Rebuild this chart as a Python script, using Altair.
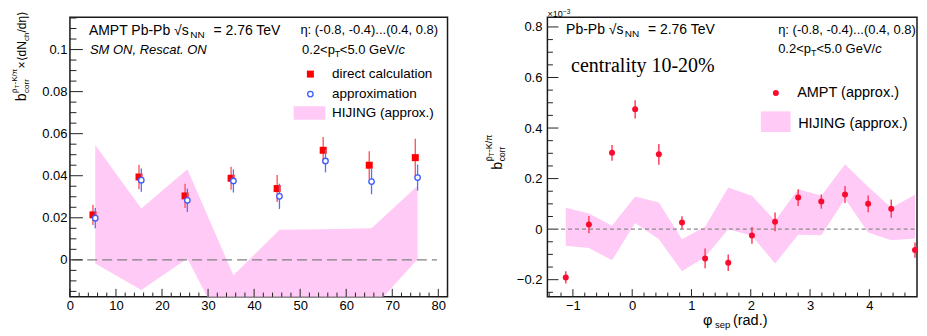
import altair as alt
import pandas as pd

# ---------------- data: left panel (vs centrality) ----------------
centrality_direct = [5, 15, 25, 35, 45, 55, 65, 75]
bcorr_direct = [0.0214, 0.0394, 0.0304, 0.0388, 0.0339, 0.0521, 0.0450, 0.0486]
bcorr_direct_err = [0.0048, 0.0058, 0.0058, 0.0055, 0.0064, 0.0063, 0.0066, 0.0090]
centrality_approx = [5.5, 15.5, 25.5, 35.5, 45.5, 55.5, 65.5, 75.5]
bcorr_approx = [0.0198, 0.0379, 0.0283, 0.0375, 0.0302, 0.0470, 0.0372, 0.0391]
bcorr_approx_err = [0.0048, 0.0055, 0.0055, 0.0055, 0.0060, 0.0054, 0.0060, 0.0062]
centrality_hijing = [5.5, 15.5, 25.5, 35.5, 45.5, 55.5, 65.5, 75.5]
hijing_left_high = [0.0546, 0.0244, 0.0431, -0.0073, 0.0143, 0.0146, 0.0150, 0.0352]
hijing_left_low = [-0.0017, -0.0143, 0.0006, -0.0415, -0.0450, -0.0450, -0.0238, 0.0003]
zero_line_left = [0.5, 79.7]

# ---------------- data: right panel (vs phi_sep) ----------------
phi_sep = [-1.12, -0.73, -0.34, 0.05, 0.45, 0.84, 1.23, 1.62,
           2.02, 2.41, 2.80, 3.19, 3.59, 3.98, 4.37, 4.77]
bcorr_ampt = [-0.191, 0.018, 0.302, 0.474, 0.296, 0.026, -0.116, -0.133,
              -0.025, 0.029, 0.125, 0.109, 0.137, 0.100, 0.081, -0.083]
bcorr_ampt_err = [0.024, 0.034, 0.031, 0.036, 0.041, 0.025, 0.039, 0.033,
                  0.033, 0.037, 0.033, 0.028, 0.034, 0.033, 0.036, 0.030]
hijing_right_high = [0.085, 0.062, 0.013, 0.129, 0.105, -0.040, 0.009, 0.165,
                     0.132, 0.033, 0.158, 0.132, 0.257, 0.168, 0.085, 0.136]
hijing_right_low = [-0.066, -0.075, -0.123, 0.024, -0.040, -0.167, -0.110, 0.000,
                    -0.026, -0.136, -0.022, -0.024, 0.120, -0.013, -0.044, -0.037]
zero_line_right = [-1.2, 4.8]

# ---------------- axis tick values ----------------
left_x_major = [0, 10, 20, 30, 40, 50, 60, 70, 80]
left_x_minor = [v for v in range(0, 83, 2) if v % 10]
left_y_major = [0, 0.02, 0.04, 0.06, 0.08, 0.1]
left_y_minor = [round(-0.015 + 0.005 * i, 3) for i in range(27) if i % 4 != 3]
right_x_major = [-1, 0, 1, 2, 3, 4]
right_x_minor = [round(-1.4 + 0.2 * i, 1) for i in range(31) if (i - 2) % 5 != 0]
right_y_major = [-0.2, 0, 0.2, 0.4, 0.6, 0.8]
right_y_minor = [round(-0.25 + 0.05 * i, 2) for i in range(22) if (i - 1) % 4 != 0]

# ---------------- styling ----------------
SANS = "Liberation Sans"
SERIF = "Liberation Serif"
PINK = "#ffcaf5"
W, W_R, H = 378, 370, 280
DY = -0.7
L_X, L_Y = [0, 82], [-0.0176, 0.1154]
R_X, R_Y = [-1.43, 4.804], [-0.268, 0.8387]
ONE = pd.DataFrame({"a": [0]})


def X(field, dom, axis=alt.Undefined):
    return alt.X(field, type="quantitative", axis=axis,
                 scale=alt.Scale(domain=dom, nice=False, zero=False))


def Y(field, dom, axis=alt.Undefined):
    return alt.Y(field, type="quantitative", axis=axis,
                 scale=alt.Scale(domain=dom, nice=False, zero=False))


def axis(values, fmt, pad):
    return alt.Axis(values=values, format=fmt, ticks=False, tickSize=0, domain=False,
                    grid=False, labelFont=SANS, labelFontSize=13, labelColor="black",
                    labelPadding=pad, labelFlush=False, labelOverlap=False, title=None)


def text(s, x, y, size=13, font=SANS, style="normal", align="left",
         baseline="alphabetic", angle=0, dy=DY):
    return alt.Chart(ONE).mark_text(
        text=s, fontSize=size, font=font, fontStyle=style, align=align,
        baseline=baseline, angle=angle, color="black"
    ).encode(x=alt.value(x), y=alt.value(y + dy))


def ticks(xmaj, xmin, ymaj, ymin, xd, yd, ymaj_len, ymin_len, xmaj_len, xmin_len):
    out = []
    for vals, ln in ((ymaj, ymaj_len), (ymin, ymin_len)):
        out.append(alt.Chart(pd.DataFrame({"v": vals})).mark_rule(color="#222", strokeWidth=1)
                   .encode(y=Y("v", yd), x=alt.value(0), x2=alt.value(ln)))
    for vals, ln in ((xmaj, xmaj_len), (xmin, xmin_len)):
        out.append(alt.Chart(pd.DataFrame({"v": vals})).mark_rule(color="#222", strokeWidth=1)
                   .encode(x=X("v", xd), y=alt.value(H), y2=alt.value(H - ln)))
    return out


# ================= LEFT PANEL =================
df_band_l = pd.DataFrame({"x": centrality_hijing, "lo": hijing_left_low, "hi": hijing_left_high})
df_dir = pd.DataFrame({"x": centrality_direct, "y": bcorr_direct})
df_dir["lo"] = df_dir["y"] - pd.Series(bcorr_direct_err)
df_dir["hi"] = df_dir["y"] + pd.Series(bcorr_direct_err)
df_app = pd.DataFrame({"x": centrality_approx, "y": bcorr_approx})
df_app["lo"] = df_app["y"] - pd.Series(bcorr_approx_err)
df_app["hi"] = df_app["y"] + pd.Series(bcorr_approx_err)

band_l = alt.Chart(df_band_l).mark_area(color=PINK, clip=True, orient="vertical", opacity=1).encode(
    x=X("x", L_X, axis(left_x_major, "d", 3)),
    y=Y("lo", L_Y, axis(left_y_major, ".2~f", 3)),
    y2=alt.Y2("hi"))
zero_l = alt.Chart(pd.DataFrame({"x": [zero_line_left[0]], "x2": [zero_line_left[1]], "y": [0]})).mark_rule(
    color="#808080", strokeDash=[10, 5], strokeWidth=1.2).encode(
    x=X("x", L_X), x2=alt.X2("x2"), y=Y("y", L_Y))
err_dir = alt.Chart(df_dir).mark_rule(color="#ff4d4d", strokeWidth=1.3).encode(
    x=X("x", L_X), y=Y("lo", L_Y), y2=alt.Y2("hi"))
pts_dir = alt.Chart(df_dir).mark_square(color="#ff0000", size=49, opacity=1).encode(
    x=X("x", L_X), y=Y("y", L_Y))
err_app = alt.Chart(df_app).mark_rule(color="#5070ff", strokeWidth=1.3).encode(
    x=X("x", L_X), y=Y("lo", L_Y), y2=alt.Y2("hi"))
pts_app = alt.Chart(df_app).mark_point(shape="circle", fill="white", fillOpacity=1, filled=True,
                                       stroke="#3a5bff", strokeWidth=1.3, size=30, opacity=1).encode(
    x=X("x", L_X), y=Y("y", L_Y))

left_layers = [band_l, zero_l, err_dir, pts_dir, err_app, pts_app]
left_layers += ticks(left_x_major, left_x_minor, left_y_major, left_y_minor, L_X, L_Y, 13, 6.5, 8, 4.3)
left_layers += [
    text("AMPT Pb-Pb √s", 19, 18.3, 14),
    text("NN", 120.5, 21.3, 10),
    text("= 2.76 TeV", 143.7, 18.3, 14),
    text("SM ON, Rescat. ON", 20, 37.7, 13, style="italic"),
    text("η: (-0.8, -0.4)...(0.4, 0.8)", 230.7, 17.7, 13),
    text("0.2<p", 232.4, 37.3, 13),
    text("T", 265.2, 40.3, 9),
    text("<5.0 GeV/", 270.2, 37.3, 13),
    text("c", 329, 37.3, 13, style="italic"),
    # legend
    alt.Chart(ONE).mark_square(color="#ff0000", size=49, opacity=1).encode(
        x=alt.value(240.7), y=alt.value(57.7 + DY)),
    alt.Chart(ONE).mark_point(shape="circle", fill="white", filled=True, stroke="#3a5bff",
                              strokeWidth=1.3, size=30, opacity=1).encode(
        x=alt.value(240.7), y=alt.value(77.7 + DY)),
    alt.Chart(ONE).mark_rect(color=PINK, opacity=1).encode(
        x=alt.value(224), x2=alt.value(255.7), y=alt.value(90 + DY), y2=alt.value(103.3 + DY)),
    text("direct calculation", 262.4, 57.7, 13.5, baseline="middle"),
    text("approximation", 262.4, 77.7, 13.5, baseline="middle"),
    text("HIJING (approx.)", 262.4, 96.7, 13.5, baseline="middle"),
    # rotated y title
    text("b", -44.3, 85, 14, angle=270),
    text("corr", -41.3, 76.5, 8, angle=270),
    text("p̄", -53, 76.5, 8, angle=270),
    text("T", -51, 72, 6, angle=270),
    text("-K/π", -53, 68, 8, angle=270),
    text("×⟨dN", -44.3, 52, 12, angle=270),
    text("ch", -41.3, 24.5, 8, angle=270),
    text("/dη⟩", -44.3, 16, 12, angle=270),
]
left = alt.layer(*left_layers).properties(width=W, height=H)

# ================= RIGHT PANEL =================
df_band_r = pd.DataFrame({"x": phi_sep, "lo": hijing_right_low, "hi": hijing_right_high})
df_ampt = pd.DataFrame({"x": phi_sep, "y": bcorr_ampt})
df_ampt["lo"] = df_ampt["y"] - pd.Series(bcorr_ampt_err)
df_ampt["hi"] = df_ampt["y"] + pd.Series(bcorr_ampt_err)

band_r = alt.Chart(df_band_r).mark_area(color=PINK, clip=True, orient="vertical", opacity=1).encode(
    x=X("x", R_X, axis(right_x_major, "d", 3)),
    y=Y("lo", R_Y, axis(right_y_major, ".1~f", 5.5)),
    y2=alt.Y2("hi"))
zero_r = alt.Chart(pd.DataFrame({"x": [zero_line_right[0]], "x2": [zero_line_right[1]], "y": [0]})).mark_rule(
    color="#8a8a8a", strokeDash=[4, 3], strokeWidth=1.2).encode(
    x=X("x", R_X), x2=alt.X2("x2"), y=Y("y", R_Y))
err_ampt = alt.Chart(df_ampt).mark_rule(color="#ff4060", strokeWidth=1.5).encode(
    x=X("x", R_X), y=Y("lo", R_Y), y2=alt.Y2("hi"))
pts_ampt = alt.Chart(df_ampt).mark_circle(color="#fb0a2e", size=36, opacity=1).encode(
    x=X("x", R_X), y=Y("y", R_Y))

right_layers = [band_r, zero_r, err_ampt, pts_ampt]
right_layers += ticks(right_x_major, right_x_minor, right_y_major, right_y_minor, R_X, R_Y, 11, 5.5, 7.7, 4.3)
right_layers += [
    text("Pb-Pb √s", 18.7, 17.3, 14),
    text("NN", 77.4, 20.3, 10),
    text("= 2.76 TeV", 100.6, 17.3, 14),
    text("η: (-0.8, -0.4)...(0.4, 0.8)", 231, 17.3, 13),
    text("0.2<p", 231, 36.7, 13),
    text("T", 263.8, 39.7, 9),
    text("<5.0 GeV/", 269.3, 36.7, 13),
    text("c", 328.1, 36.7, 13, style="italic"),
    text("centrality 10-20%", 23.7, 55.7, 20, font=SERIF),
    text("×10", 0, -0.3, 9, dy=0),
    text("−3", 15.5, -2.8, 6.5, dy=0),
    # legend
    alt.Chart(ONE).mark_circle(color="#fb0a2e", size=36, opacity=1).encode(
        x=alt.value(228.7), y=alt.value(76.7 + DY)),
    text("AMPT (approx.)", 250, 76.7, 14.5, baseline="middle"),
    alt.Chart(ONE).mark_rect(color=PINK, opacity=1).encode(
        x=alt.value(213.7), x2=alt.value(243.4), y=alt.value(95 + DY), y2=alt.value(115.7 + DY)),
    text("HIJING (approx.)", 251, 107.7, 14.5, baseline="middle"),
    # rotated y title
    text("b", -45.6, 153.5, 14, angle=270),
    text("corr", -42.3, 145, 8.5, angle=270),
    text("p̄", -55.3, 145, 9, angle=270),
    text("T", -53.3, 140, 6.5, angle=270),
    text("-K/π", -55.3, 136, 9, angle=270),
    # x title
    text("φ", 155.7, H + 28, 14.5, dy=0),
    text("sep", 167.7, H + 31.5, 9.5, dy=0),
    text("(rad.)", 185.7, H + 28, 14.5, dy=0),
]
right = alt.layer(*right_layers).properties(width=W_R, height=H)

chart = alt.hconcat(left, right, spacing=100, bounds="flush").properties(
    padding={"left": 2, "right": 0, "top": 0, "bottom": 0}
).configure_view(stroke="#1a1a1a", strokeWidth=1.5)

chart.save("out.html", embed_options={"renderer": "svg", "actions": False})
